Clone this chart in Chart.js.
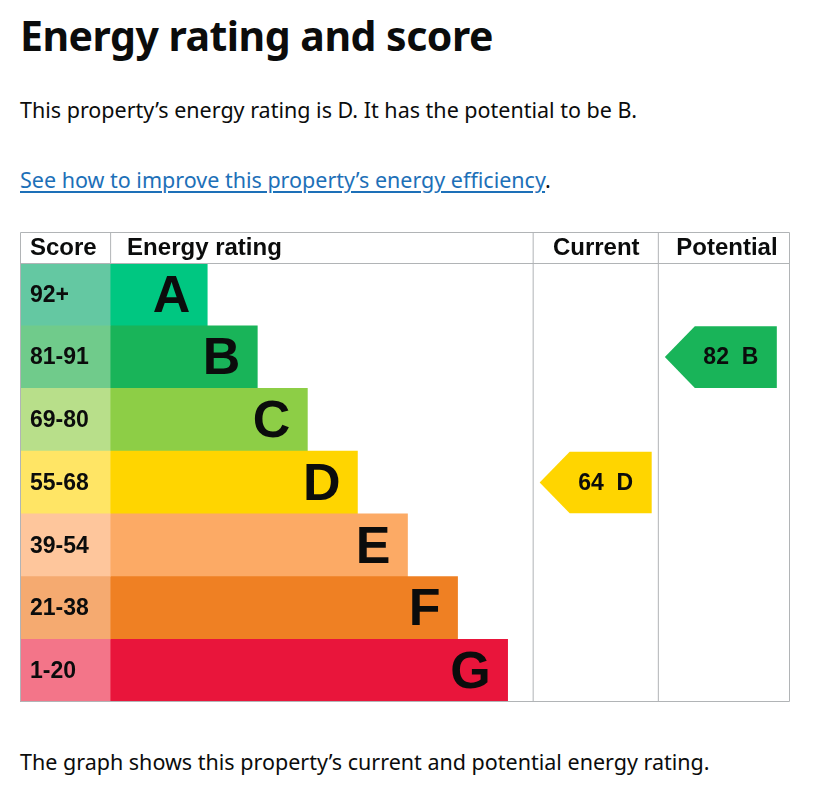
<!DOCTYPE html>
<html>
<head>
<meta charset="utf-8">
<script src="https://cdn.jsdelivr.net/npm/chart.js@4/dist/chart.umd.min.js"></script>
<style>
  body { margin: 0; background: #fff; color: #0b0c0c; font-family: "Noto Sans", Arial, sans-serif; }
  .page { position: relative; width: 813px; height: 808px; }
  h1 { position: absolute; left: 20px; top: 7px; margin: 0; font-size: 41px; font-weight: 700; letter-spacing: -0.5px; }
  p { position: absolute; left: 20px; margin: 0; font-size: 21.5px; }
  a { color: #1d70b8; text-decoration: underline; text-underline-offset: 3px; }
  #wrap { position: absolute; left: 20px; top: 232px; width: 770px; height: 470px; }
</style>
</head>
<body>
<div class="page">
  <h1>Energy rating and score</h1>
  <p style="top:95px">This property’s energy rating is D. It has the potential to be B.</p>
  <p style="top:165px"><a href="#">See how to improve this property’s energy efficiency</a>.</p>
  <div id="wrap"><canvas id="epcChart"></canvas></div>
  <p style="top:747px">The graph shows this property’s current and potential energy rating.</p>
</div>
<script>
  // Bands, score ranges and colours
  const bands = ['A', 'B', 'C', 'D', 'E', 'F', 'G'];
  const scoreRanges = ['92+', '81-91', '69-80', '55-68', '39-54', '21-38', '1-20'];
  const bandColors = ['#00c781', '#19b459', '#8dce46', '#ffd500', '#fcaa65', '#ef8023', '#e9153b'];
  const scoreColors = ['#64c8a2', '#70cb8b', '#b8df8a', '#ffe565', '#fec69c', '#f5aa70', '#f37589'];
  // bar lengths, in steps of the rating scale
  const barLengths = [1.94, 2.94, 3.94, 4.94, 5.94, 6.94, 7.94];
  const scoreColumn = [1.8, 1.8, 1.8, 1.8, 1.8, 1.8, 1.8];

  const currentScore = 64;
  const currentBand = 'D';
  const potentialScore = 82;
  const potentialBand = 'B';

  // table column edges on the x scale
  const colRatingEnd = 10.24;
  const colCurrentEnd = 12.74;
  const colEnd = 15.38;
  const headerHeight = 31;
  const lineColor = '#b1b4b6';
  const font = '"Liberation Sans", Arial, sans-serif';

  const tablePlugin = {
    id: 'epcTable',
    afterDatasetsDraw(chart) {
      const ctx = chart.ctx;
      const xs = chart.scales.x;
      const ys = chart.scales.y;
      const area = chart.chartArea;
      const top = area.top - headerHeight;
      const x0 = xs.getPixelForValue(0);
      const xScore = xs.getPixelForValue(scoreColumn[0]);
      const xCur = xs.getPixelForValue(colRatingEnd);
      const xPot = xs.getPixelForValue(colCurrentEnd);
      const xEnd = xs.getPixelForValue(colEnd);

      ctx.save();
      ctx.strokeStyle = lineColor;
      ctx.lineWidth = 1;
      ctx.beginPath();
      // outer box
      ctx.rect(x0 + 0.5, top + 0.5, xEnd - x0 - 1, area.bottom - top - 1);
      // header underline
      ctx.moveTo(x0, area.top + 0.5); ctx.lineTo(xEnd, area.top + 0.5);
      // header divider between score and rating
      ctx.moveTo(xScore + 0.5, top); ctx.lineTo(xScore + 0.5, area.top);
      // current / potential columns
      ctx.moveTo(xCur + 0.5, top); ctx.lineTo(xCur + 0.5, area.bottom);
      ctx.moveTo(xPot + 0.5, top); ctx.lineTo(xPot + 0.5, area.bottom);
      ctx.stroke();

      // header text
      ctx.fillStyle = '#0b0c0c';
      ctx.font = 'bold 24px ' + font;
      ctx.textBaseline = 'middle';
      const hy = top + headerHeight / 2 + 1;
      ctx.textAlign = 'left';
      ctx.fillText('Score', x0 + 10, hy);
      ctx.fillText('Energy rating', xScore + 17, hy);
      ctx.textAlign = 'center';
      ctx.fillText('Current', (xCur + xPot) / 2 + 1, hy);
      ctx.fillText('Potential', (xPot + xEnd) / 2 + 3, hy);

      // score ranges and band letters
      const barMeta = chart.getDatasetMeta(1);
      bands.forEach((b, i) => {
        const y = ys.getPixelForValue(i);
        ctx.textAlign = 'left';
        ctx.font = 'bold 23px ' + font;
        ctx.fillText(scoreRanges[i], x0 + 10, y + 1);
        ctx.textAlign = 'right';
        ctx.font = 'bold 52px ' + font;
        ctx.fillText(b, barMeta.data[i].x - 17, y + 3);
      });

      // current / potential arrows
      const rowH = ys.getPixelForValue(1) - ys.getPixelForValue(0);
      const drawArrow = (left, right, band, score) => {
        const i = bands.indexOf(band);
        const yc = ys.getPixelForValue(i);
        const y1 = yc - rowH / 2 + 0.5;
        const y2 = yc + rowH / 2 - 0.5;
        const tip = 30;
        ctx.fillStyle = bandColors[i];
        ctx.beginPath();
        ctx.moveTo(left, yc);
        ctx.lineTo(left + tip, y1);
        ctx.lineTo(right, y1);
        ctx.lineTo(right, y2);
        ctx.lineTo(left + tip, y2);
        ctx.closePath();
        ctx.fill();
        ctx.fillStyle = '#0b0c0c';
        ctx.font = 'bold 23px ' + font;
        ctx.textAlign = 'center';
        ctx.fillText(score + '  ' + band, left + tip + (right - left - tip) / 2 - 5, yc + 1);
      };
      drawArrow(xCur + 7, xCur + 119, currentBand, currentScore);
      drawArrow(xPot + 7, xPot + 119, potentialBand, potentialScore);
      ctx.restore();
    }
  };

  new Chart(document.getElementById('epcChart'), {
    type: 'bar',
    data: {
      labels: bands,
      datasets: [{
        label: 'Score',
        data: scoreColumn,
        backgroundColor: scoreColors,
        borderWidth: 0
      }, {
        label: 'Energy rating',
        data: barLengths,
        backgroundColor: bandColors,
        borderWidth: 0
      }]
    },
    options: {
      indexAxis: 'y',
      responsive: true,
      maintainAspectRatio: false,
      animation: false,
      barPercentage: 1,
      categoryPercentage: 1,
      layout: { padding: { top: headerHeight, left: 0, right: 0, bottom: 0 } },
      plugins: { legend: { display: false }, tooltip: { enabled: false } },
      scales: {
        x: { stacked: true, display: false, min: 0, max: colEnd },
        y: { stacked: true, display: false }
      }
    },
    plugins: [tablePlugin]
  });
</script>
</body>
</html>
